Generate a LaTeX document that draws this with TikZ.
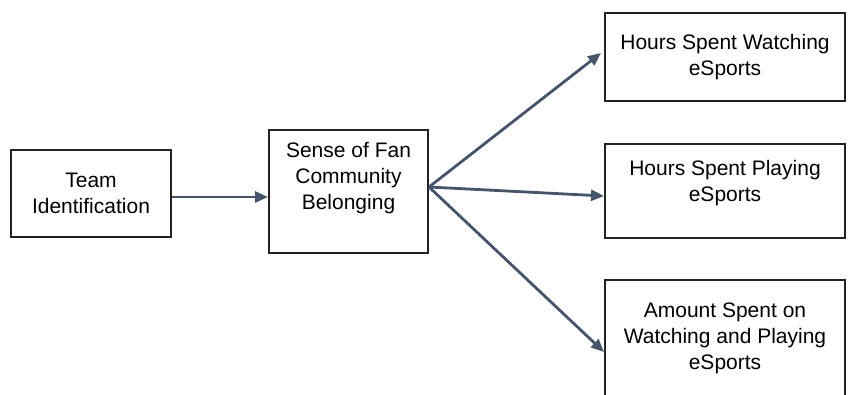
\documentclass[tikz,border=0pt]{standalone}
\usepackage{fontspec}
\setmainfont{Liberation Sans}
\usetikzlibrary{arrows.meta}
\definecolor{arrowcol}{HTML}{44546A}
\definecolor{boxcol}{HTML}{222222}
\begin{document}
\begin{tikzpicture}[x=1pt,y=-1pt,
  box/.style={draw=boxcol,line width=2pt,fill=white,align=center,inner sep=0pt,
    font=\fontsize{21}{26}\selectfont},
  conn/.style={draw=arrowcol,line width=2.8pt,-{Triangle[length=13pt,width=11pt]}}]
\useasboundingbox (0,0) rectangle (848,394);
\clip (0,0) rectangle (848,394);
\node[box,minimum width=160pt,minimum height=87pt] (ti) at (91,193.5) {Team\\Identification};
\node[box,minimum width=159pt,minimum height=123pt] (sf) at (348.5,191.5) {Sense of Fan\\Community\\Belonging\\[6pt]};
\node[box,minimum width=240pt,minimum height=88pt] (hw) at (725,57) {Hours Spent Watching\\eSports};
\node[box,minimum width=240pt,minimum height=94pt] (hp) at (725,191) {Hours Spent Playing\\eSports\\[-6pt]};
\node[box,minimum width=240pt,minimum height=116pt] (am) at (725,338) {Amount Spent on\\Watching and Playing\\eSports};
\coordinate (src) at (429,187);
\draw[conn] (ti.east |- 0,197) -- (sf.west |- 0,197);
\draw[conn] (src) -- (601,53);
\draw[conn] (src) -- (hp.west |- 0,196);
\draw[conn] (src) -- (am.west |- 0,352);
\end{tikzpicture}
\end{document}
